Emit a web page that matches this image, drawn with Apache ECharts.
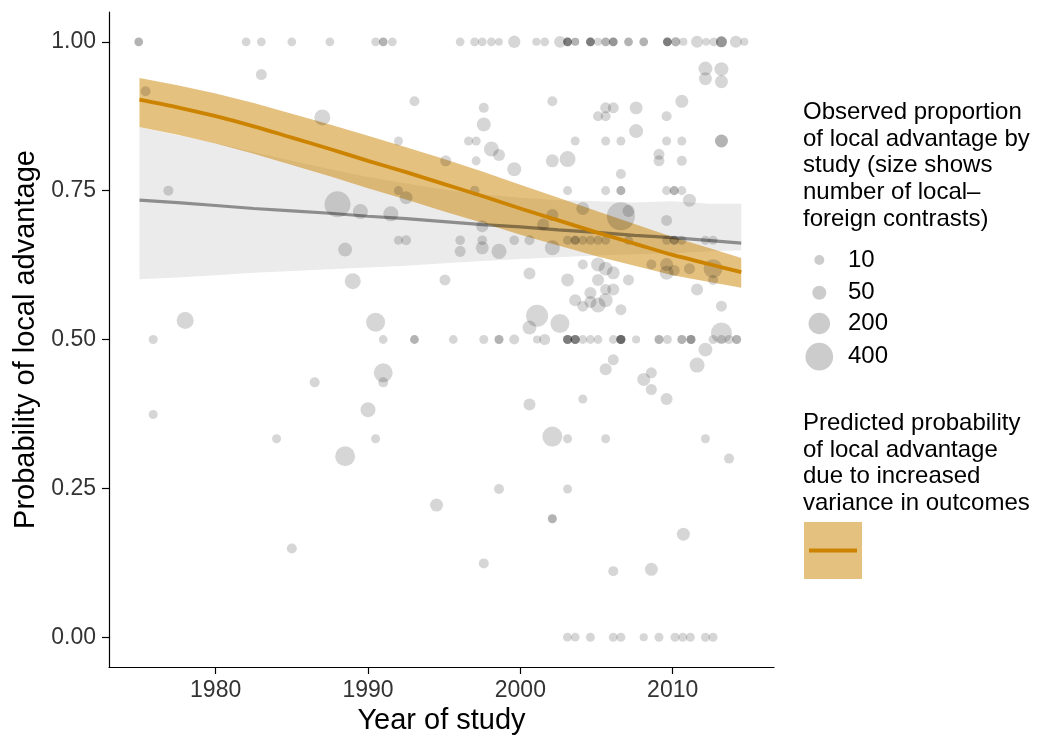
<!DOCTYPE html>
<html>
<head>
<meta charset="utf-8">
<script src="https://cdn.jsdelivr.net/npm/echarts@6/dist/echarts.min.js"></script>
<style>
  html, body { margin: 0; padding: 0; background: #ffffff; }
  #chart { width: 1042px; height: 735px; }
</style>
</head>
<body>
<div id="chart"></div>
<script>
// ---------- Observed studies: [year, number of local-foreign contrasts] per common proportion ----------
const rowProp = { one: 1, fiveSixths: 5 / 6, threeQuarters: 0.75, twoThirds: 2 / 3, half: 0.5, oneThird: 1 / 3, zero: 0 };

const studiesAtOne = [
  [1974.95, 4], [1974.95, 4], [1982.0, 4], [1983.0, 4], [1985.0, 4], [1987.5, 4], [1990.5, 4],
  [1991.0, 4], [1991.0, 4], [1991.6, 4], [1996.05, 4], [1997.0, 4], [1997.5, 4], [1998.1, 4],
  [1998.6, 1], [1999.6, 29], [2001.05, 2], [2001.6, 4], [2002.6, 23],
  [2003.1, 4], [2003.1, 4], [2003.1, 4], [2003.1, 4], [2003.6, 2], [2003.6, 2],
  [2004.6, 4], [2004.6, 4], [2004.6, 4], [2004.6, 4], [2005.1, 2], [2005.6, 4], [2005.6, 4],
  [2006.1, 4], [2006.1, 4], [2006.1, 4], [2007.1, 4], [2007.1, 4], [2008.1, 4], [2008.1, 4],
  [2009.65, 4], [2009.65, 4], [2009.65, 4], [2009.65, 4], [2010.2, 6], [2010.2, 6], [2010.7, 2],
  [2011.6, 26], [2012.2, 1], [2012.7, 4], [2013.2, 17], [2013.2, 17], [2013.2, 17],
  [2014.15, 26], [2014.7, 2]
];
const studiesAtFiveSixths = [
  [1992.0, 5], [1996.6, 5], [1997.1, 5], [2003.6, 5], [2005.6, 5], [2006.6, 5],
  [2009.6, 5], [2010.6, 5], [2013.2, 36], [2013.2, 36]
];
const studiesAtThreeQuarters = [
  [1976.9, 10], [1992.0, 5], [1997.0, 8], [2003.1, 5], [2005.6, 5], [2006.6, 5], [2006.6, 5],
  [2009.6, 5], [2010.1, 5], [2010.1, 5], [2010.6, 5]
];
const studiesAtTwoThirds = [
  [1992.0, 5], [1992.5, 10], [1996.05, 8], [1997.5, 8], [1999.6, 8], [2000.6, 10],
  [2003.1, 5], [2003.6, 5], [2003.6, 5], [2004.1, 5], [2004.6, 5], [2005.1, 5], [2005.6, 5],
  [2007.1, 5], [2009.6, 5], [2010.1, 5], [2010.1, 5], [2010.6, 5], [2012.15, 5], [2012.65, 5]
];
const studiesAtHalf = [
  [1975.9, 5], [1991.0, 4], [1993.05, 4], [1993.05, 4], [1995.6, 4], [1997.6, 5],
  [1998.6, 5], [1998.6, 5], [1999.6, 10], [2001.1, 2], [2001.6, 17],
  [2003.1, 5], [2003.1, 5], [2003.1, 5], [2003.1, 5], [2003.6, 5], [2003.6, 5], [2003.6, 5], [2003.6, 5],
  [2004.1, 4], [2004.6, 4], [2005.1, 4], [2006.1, 4],
  [2006.6, 5], [2006.6, 5], [2006.6, 5], [2006.6, 5], [2006.6, 5], [2007.6, 2],
  [2009.1, 5], [2009.1, 5], [2009.65, 5], [2010.6, 5], [2010.6, 5],
  [2011.2, 5], [2011.2, 5], [2011.2, 5], [2012.65, 5], [2013.2, 5], [2013.7, 5], [2014.2, 5], [2014.2, 5]
];
const studiesAtOneThird = [
  [1984.0, 5], [1990.5, 5], [2003.1, 5], [2005.6, 5], [2012.15, 5]
];
const studiesAtZero = [
  [2003.09, 4], [2003.6, 4], [2004.6, 5], [2006.1, 5], [2006.6, 5], [2008.1, 2], [2009.1, 5],
  [2010.15, 5], [2010.66, 5], [2011.16, 5], [2012.15, 5], [2012.65, 5]
];

// ---------- Observed studies with other proportions: [year, proportion, contrasts] ----------
const studiesEarly = [
  [1975.4, 0.917, 10], [1983.0, 0.945, 17], [1993.05, 0.90, 10], [1987.0, 0.873, 79],
  [1992.5, 0.738, 36], [1988.0, 0.727, 338], [1989.5, 0.715, 63], [1991.5, 0.711, 63],
  [1995.1, 0.80, 17], [1988.5, 0.651, 48], [1989.0, 0.598, 79], [1978.0, 0.532, 97],
  [1990.5, 0.529, 137], [1991.0, 0.444, 137], [1991.0, 0.428, 10], [1986.5, 0.428, 10],
  [1975.9, 0.374, 5], [1990.0, 0.382, 63], [1988.5, 0.304, 161], [1985.0, 0.149, 10],
  [1994.5, 0.222, 36], [1995.05, 0.60, 17]
];
const studiesLowLate = [
  [1998.6, 0.249, 10], [2003.1, 0.249, 5], [2002.1, 0.199, 5], [2002.1, 0.199, 5],
  [1997.6, 0.124, 10], [2006.1, 0.111, 10], [2008.6, 0.114, 36], [2010.7, 0.173, 36],
  [2013.7, 0.30, 10], [2002.1, 0.337, 161], [2013.2, 0.511, 186], [2012.15, 0.483, 48],
  [2011.6, 0.457, 63], [2006.1, 0.466, 17], [2005.6, 0.45, 26], [2008.6, 0.444, 17],
  [2008.1, 0.433, 36], [2008.6, 0.416, 17], [2009.6, 0.40, 26], [2004.1, 0.40, 5],
  [2000.6, 0.391, 26], [2001.1, 0.540, 213], [2000.6, 0.520, 48], [2002.6, 0.527, 137]
];
const studiesMidLate = [
  [2000.6, 0.611, 26], [2003.1, 0.60, 36], [2004.1, 0.626, 10], [2005.1, 0.626, 48],
  [2005.6, 0.619, 48], [2006.1, 0.612, 36], [2005.1, 0.60, 26], [2007.1, 0.60, 17],
  [2004.6, 0.578, 26], [2005.6, 0.584, 17], [2006.1, 0.584, 26], [2003.6, 0.566, 26],
  [2004.6, 0.563, 26], [2005.6, 0.566, 48], [2004.1, 0.556, 17], [2005.1, 0.558, 63],
  [2006.6, 0.550, 17], [2008.6, 0.626, 10], [2009.6, 0.626, 36], [2009.6, 0.612, 48],
  [2010.1, 0.616, 17], [2011.1, 0.619, 17], [2012.65, 0.619, 137], [2012.65, 0.60, 10],
  [2011.6, 0.584, 26], [2013.2, 0.556, 17],
  [1996.05, 0.648, 17], [1997.5, 0.654, 36], [1998.6, 0.648, 63], [2002.1, 0.654, 63],
  [1997.5, 0.69, 26], [2001.5, 0.693, 26], [2002.1, 0.709, 26], [2009.6, 0.70, 17],
  [2006.6, 0.707, 415], [2007.1, 0.716, 26], [2004.1, 0.72, 36], [2011.1, 0.734, 36]
];
const studiesHighLate = [
  [1997.1, 0.80, 5], [1998.1, 0.82, 63], [1998.6, 0.81, 26], [1999.6, 0.786, 48],
  [2002.1, 0.80, 36], [2003.1, 0.803, 79], [2009.1, 0.811, 17], [2009.1, 0.80, 17],
  [2010.6, 0.80, 10], [2006.6, 0.778, 10],
  [2012.15, 0.955, 48], [2013.2, 0.954, 48], [2012.15, 0.938, 36], [2013.2, 0.933, 36],
  [2010.6, 0.90, 36], [2002.1, 0.90, 10], [1997.6, 0.889, 10], [1997.6, 0.861, 48],
  [2005.6, 0.889, 17], [2006.1, 0.889, 17], [2005.1, 0.875, 10], [2005.6, 0.875, 10],
  [2007.6, 0.889, 36], [2007.6, 0.85, 48], [2009.6, 0.875, 10]
];

// ---------- Model predictions along the year range ----------
const predYear  = [1975, 1977.5, 1980, 1982.5, 1985, 1987.5, 1990, 1992.5, 1995, 1997.5, 2000, 2002.5, 2005, 2007.5, 2010, 2012.5, 2014.5];
// increased-variance model (orange)
const varMean   = [0.903, 0.890, 0.875, 0.858, 0.839, 0.820, 0.800, 0.781, 0.761, 0.741, 0.720, 0.700, 0.680, 0.661, 0.642, 0.626, 0.613];
const varUpper  = [0.939, 0.927, 0.913, 0.897, 0.879, 0.861, 0.842, 0.823, 0.803, 0.782, 0.760, 0.738, 0.716, 0.694, 0.672, 0.653, 0.637];
const varLower  = [0.857, 0.844, 0.829, 0.812, 0.793, 0.774, 0.754, 0.735, 0.715, 0.696, 0.676, 0.658, 0.640, 0.624, 0.608, 0.596, 0.587];
// null model (grey)
const nullMean  = [0.734, 0.730, 0.725, 0.720, 0.716, 0.712, 0.707, 0.703, 0.698, 0.693, 0.689, 0.684, 0.680, 0.675, 0.671, 0.666, 0.662];
const nullUpper = [0.857, 0.843, 0.830, 0.815, 0.800, 0.786, 0.773, 0.762, 0.752, 0.744, 0.738, 0.734, 0.732, 0.730, 0.732, 0.728, 0.728];
const nullLower = [0.601, 0.604, 0.608, 0.612, 0.615, 0.618, 0.621, 0.624, 0.628, 0.632, 0.635, 0.638, 0.641, 0.643, 0.645, 0.648, 0.650];

const yTicks = [0, 0.25, 0.5, 0.75, 1];
const xTicks = [1980, 1990, 2000, 2010];
const sizeKeys = [10, 50, 200, 400];

// ---------- helpers ----------
const FONT = "'Liberation Sans', Arial, Helvetica, sans-serif";
const ORANGE = '#cc8400';
const ORANGE_FILL = 'rgba(204,132,0,0.5)';
const POINT_FILL = 'rgba(0,0,0,0.2)';
function dotSize(n) { return 6.68 + 1.051 * Math.sqrt(n); }

const points = [];
function addRow(list, p) { list.forEach(function (d) { points.push([d[0], p, d[1]]); }); }
addRow(studiesAtOne, rowProp.one);
addRow(studiesAtFiveSixths, rowProp.fiveSixths);
addRow(studiesAtThreeQuarters, rowProp.threeQuarters);
addRow(studiesAtTwoThirds, rowProp.twoThirds);
addRow(studiesAtHalf, rowProp.half);
addRow(studiesAtOneThird, rowProp.oneThird);
addRow(studiesAtZero, rowProp.zero);
[studiesEarly, studiesLowLate, studiesMidLate, studiesHighLate].forEach(function (list) {
  list.forEach(function (d) { points.push([d[0], d[1], d[2]]); });
});

// filled band between two prediction curves
function ribbonSeries(lower, upper, fill, z) {
  return {
    type: 'custom',
    z: z,
    silent: true,
    clip: true,
    data: [0],
    renderItem: function (params, api) {
      const pts = [];
      for (let i = 0; i < predYear.length; i++) pts.push(api.coord([predYear[i], upper[i]]));
      for (let i = predYear.length - 1; i >= 0; i--) pts.push(api.coord([predYear[i], lower[i]]));
      return { type: 'polygon', shape: { points: pts }, style: { fill: fill } };
    }
  };
}
function lineData(vals) { return predYear.map(function (x, i) { return [x, vals[i]]; }); }

const chart = echarts.init(document.getElementById('chart'), null, { renderer: 'canvas' });

// legend (drawn at the right of the panel)
const legendGraphics = [];
const title1 = 'Observed proportion\nof local advantage by\nstudy (size shows\nnumber of local\u2013\nforeign contrasts)';
const title2 = 'Predicted probability\nof local advantage\ndue to increased\nvariance in outcomes';
const LEG_FONT = '24px ' + FONT;
legendGraphics.push({
  type: 'text', left: 803, top: 99,
  style: { text: title1, font: LEG_FONT, fill: '#000', lineHeight: 26.7 }
});
const keyY = [260, 292.7, 323.5, 356.7];
sizeKeys.forEach(function (n, i) {
  legendGraphics.push({
    type: 'circle', shape: { cx: 819.3, cy: keyY[i], r: dotSize(n) / 2 }, style: { fill: POINT_FILL }
  });
  legendGraphics.push({
    type: 'text', x: 848, y: keyY[i],
    style: { text: String(n), font: LEG_FONT, fill: '#000', verticalAlign: 'middle', align: 'left' }
  });
});
legendGraphics.push({
  type: 'text', left: 803, top: 410,
  style: { text: title2, font: LEG_FONT, fill: '#000', lineHeight: 26.7 }
});
legendGraphics.push({ type: 'rect', shape: { x: 804, y: 522, width: 58, height: 57 }, style: { fill: ORANGE_FILL } });
legendGraphics.push({ type: 'line', shape: { x1: 809, y1: 550.5, x2: 857, y2: 550.5 }, style: { stroke: ORANGE, lineWidth: 3.8 } });

const axisCommon = {
  type: 'value',
  splitLine: { show: false },
  axisLine: { show: true, onZero: false, lineStyle: { color: '#000', width: 1.2 } },
  axisTick: { show: true, length: 7, lineStyle: { color: '#000', width: 1.2 } },
  nameTextStyle: { fontFamily: FONT, fontSize: 29, color: '#000' }
};

chart.setOption({
  animation: false,
  backgroundColor: '#ffffff',
  grid: { left: 109, top: 12, width: 665, height: 655, containLabel: false, outerBoundsMode: 'none' },
  xAxis: Object.assign({}, axisCommon, {
    min: 1973.0, max: 2016.65,
    name: 'Year of study', nameLocation: 'middle', nameGap: 38,
    axisTick: Object.assign({}, axisCommon.axisTick, { customValues: xTicks }),
    axisLabel: {
      customValues: xTicks, margin: 12, fontFamily: FONT, fontSize: 23, color: '#333',
      formatter: function (v) { return String(Math.round(v)); }
    }
  }),
  yAxis: Object.assign({}, axisCommon, {
    min: -0.05, max: 1.05,
    name: 'Probability of local advantage', nameLocation: 'middle', nameGap: 62, nameRotate: 90,
    axisTick: Object.assign({}, axisCommon.axisTick, { customValues: yTicks }),
    axisLabel: {
      customValues: yTicks, margin: 13, fontFamily: FONT, fontSize: 23, color: '#333',
      formatter: function (v) { return v.toFixed(2); }
    }
  }),
  graphic: legendGraphics,
  series: [
    ribbonSeries(nullLower, nullUpper, '#ebebeb', 1),
    ribbonSeries(varLower, varUpper, ORANGE_FILL, 2),
    {
      type: 'line', z: 3, data: lineData(nullMean), showSymbol: false, silent: true,
      lineStyle: { color: 'rgba(0,0,0,0.4)', width: 3.2 }
    },
    {
      type: 'scatter', z: 4, data: points, silent: true,
      symbolSize: function (v) { return dotSize(v[2]); },
      itemStyle: { color: POINT_FILL, borderWidth: 0 }
    },
    {
      type: 'line', z: 5, data: lineData(varMean), showSymbol: false, silent: true, smooth: 0.3,
      lineStyle: { color: ORANGE, width: 3.8 }
    }
  ]
});
</script>
</body>
</html>
